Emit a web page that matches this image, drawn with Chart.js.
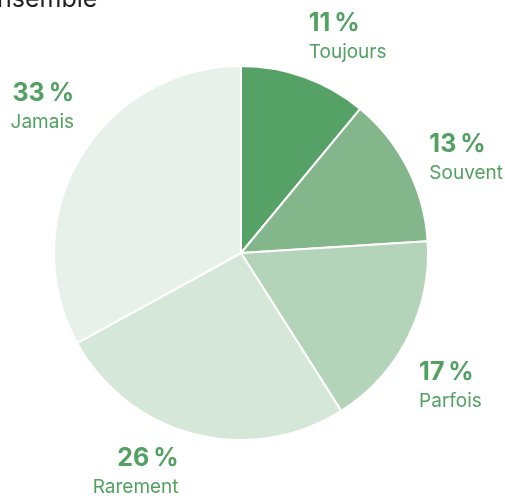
<!DOCTYPE html>
<html>
<head>
<meta charset="utf-8">
<script src="https://cdn.jsdelivr.net/npm/chart.js@4/dist/chart.umd.min.js"></script>
<style>
  html, body { margin: 0; padding: 0; background: #fff; }
  #wrap { width: 505px; height: 496px; }
</style>
</head>
<body>
<div id="wrap"><canvas id="myChart" width="505" height="496"></canvas></div>
<script>
'use strict'
//////////////////
//Chart data
/////////////////
const titleText = 'Ensemble';
const categories = ['Toujours', 'Souvent', 'Parfois', 'Rarement', 'Jamais'];
const shares = [11, 13, 17, 26, 33];
const sliceColors = ['#56a166', '#84b68c', '#b4d4ba', '#d5e7d8', '#e8f1e9'];
const labelColor = '#52a062';

/////////////////////////
//Label plugin: value + category outside each slice
////////////////////////
const outsideLabels = {
  id: 'outsideLabels',
  afterDatasetsDraw(chart, args, opts) {
    const ctx = chart.ctx;
    const meta = chart.getDatasetMeta(0);
    const W = chart.width, H = chart.height;
    ctx.save();
    meta.data.forEach((arc, i) => {
      const p = arc.getProps(['x', 'y', 'startAngle', 'endAngle', 'outerRadius'], true);
      const mid = (p.startAngle + p.endAngle) / 2 + opts.angleShift * Math.PI / 180;
      const dist = p.outerRadius + opts.gap;
      const nudge = opts.nudges[i] || [0, 0];
      let cx = p.x + Math.cos(mid) * dist + nudge[0];
      let cy = p.y + Math.sin(mid) * dist + nudge[1];

      const pct = shares[i] + '\u202f%';
      const name = categories[i];
      ctx.font = 'bold 25px Inter';
      const w1 = ctx.measureText(pct).width;
      ctx.font = '19px Inter';
      const w2 = ctx.measureText(name).width;
      const w = Math.max(w1, w2);

      // keep the block inside the canvas
      cx = Math.min(Math.max(cx, w / 2 + 2), W - w / 2 - 2);
      cy = Math.min(Math.max(cy, 26), H - 24);

      const rightSide = cx >= p.x;
      const ax = rightSide ? cx - w / 2 : cx + w / 2;
      ctx.textAlign = rightSide ? 'left' : 'right';
      ctx.textBaseline = 'alphabetic';
      ctx.fillStyle = labelColor;
      ctx.font = 'bold 25px Inter';
      ctx.fillText(pct, ax, cy - 6);
      ctx.font = '19px Inter';
      ctx.fillText(name, ax, cy + 21);
    });
    ctx.restore();
  }
};

// Title is partly cut off at the top-left, like the reference
const cutTitle = {
  id: 'cutTitle',
  afterDraw(chart) {
    const ctx = chart.ctx;
    ctx.save();
    ctx.font = '25px Inter';
    ctx.fillStyle = '#222222';
    ctx.textAlign = 'left';
    ctx.textBaseline = 'alphabetic';
    ctx.fillText(titleText, -18, 7);
    ctx.restore();
  }
};

const data = {
  labels: categories,
  datasets: [{
    data: shares,
    backgroundColor: sliceColors,
    borderColor: '#ffffff',
    borderWidth: 2,
    hoverOffset: 0
  }]
};

const config = {
  type: 'pie',
  data: data,
  options: {
    responsive: false,
    animation: false,
    layout: {
      padding: { top: 65, bottom: 55, left: 53, right: 76 }
    },
    plugins: {
      legend: { display: false },
      tooltip: { enabled: false },
      outsideLabels: {
        gap: 58,
        angleShift: 6,
        nudges: [[0, 5], [0, -7], [4, 0], [-20, 0], [-2, 0]]
      }
    }
  },
  plugins: [outsideLabels, cutTitle]
};

let canvasChart = document.getElementById('myChart');
const myChart = new Chart(canvasChart, config);
</script>
</body>
</html>
